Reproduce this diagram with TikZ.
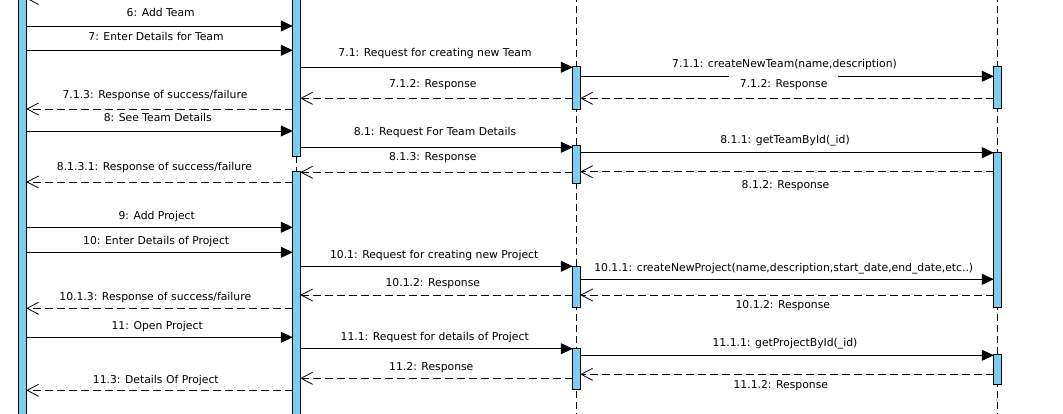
\documentclass[tikz,border=0pt]{standalone}
\usepackage{fontspec}
\setmainfont{DejaVu Sans}
\usetikzlibrary{arrows.meta}
\definecolor{barblue}{RGB}{122,206,242}
\tikzset{
  actbarst/.style={draw=black, line width=0.9pt, fill=barblue, minimum width=7.5pt, inner sep=0pt, outer sep=0pt},
  lifeline/.style={draw=black, line width=0.8pt, dash pattern=on 7pt off 4pt},
  call/.style={draw=black, line width=0.9pt, -{Triangle[length=12pt,width=11pt]}},
  ret/.style={draw=black, line width=0.9pt, dash pattern=on 8pt off 4pt, -{Straight Barb[length=11.5pt,width=12pt,line width=0.8pt]}},
  lbl/.style={font=\fontsize{10.8pt}{12pt}\selectfont, anchor=base, inner sep=0pt, text=black},
  lblw/.style={lbl, fill=white, inner xsep=11pt, inner ysep=4.5pt}
}
\newcommand\actbar[4]{%
  \pgfmathsetmacro\barh{#4-#3}%
  \pgfmathsetmacro\barc{(#3+#4)/2}%
  \node[actbarst, minimum height=\barh pt] (#1) at (#2,\barc) {};}
\begin{document}
\begin{tikzpicture}[x=1pt,y=-1pt]
\useasboundingbox[fill=white] (0,0) rectangle (1063,414);
% lifelines
\coordinate (L3top) at (576.5,-5);
\coordinate (L3bot) at (576.5,420);
\coordinate (L4top) at (997.5,-5);
\coordinate (L4bot) at (997.5,420);
\draw[lifeline] (L3top) -- (L3bot);
\draw[lifeline] (L4top) -- (L4bot);
% activation bars
\actbar{A1}{22.5}{-5}{420}
\actbar{B1}{296.5}{-5}{156.5}
\actbar{B2}{296.5}{171.5}{420}
\draw[lifeline] (B1.south) -- (B2.north);
\actbar{C1}{576.5}{66.5}{109}
\actbar{C2}{576.5}{145.5}{183.5}
\actbar{C3}{576.5}{266.5}{307}
\actbar{C4}{576.5}{348.5}{389}
\actbar{D1}{997.5}{66.5}{108.5}
\actbar{D2}{997.5}{152.5}{307}
\actbar{D3}{997.5}{354.5}{384.5}
% partially visible return at the top
\draw[ret] (B1.west |- 0,-1.5) -- (A1.east |- 0,-1.5);
% messages
\draw[call] (A1.east |- 0,26) -- (B1.west |- 0,26);
\node[lbl] (m6) at (160.7,16.7) {6: Add Team};
\draw[call] (A1.east |- 0,50.3) -- (B1.west |- 0,50.3);
\node[lbl] (m7) at (156,40.2) {7: Enter Details for Team};
\draw[call] (B1.east |- 0,67.3) -- (C1.west |- 0,67.3);
\node[lbl] (m71) at (435,56.8) {7.1: Request for creating new Team};
\draw[call] (C1.east |- 0,76.3) -- (D1.west |- 0,76.3);
\node[lbl] (m711) at (784.5,67.5) {7.1.1: createNewTeam(name,description)};
\draw[ret] (D1.west |- 0,98.3) -- (C1.east |- 0,98.3);
\node[lblw] (m712a) at (783.7,87.5) {7.1.2: Response};
\draw[ret] (C1.west |- 0,98.3) -- (B1.east |- 0,98.3);
\node[lbl] (m712b) at (432.8,87.8) {7.1.2: Response};
\draw[ret] (B1.west |- 0,109) -- (A1.east |- 0,109);
\node[lbl] (m713) at (155,98.5) {7.1.3: Response of success/failure};
\draw[call] (A1.east |- 0,131) -- (B1.west |- 0,131);
\node[lbl] (m8) at (157.8,121.5) {8: See Team Details};
\draw[call] (B1.east |- 0,147.3) -- (C2.west |- 0,147.3);
\node[lbl] (m81) at (435,136) {8.1: Request For Team Details};
\draw[call] (C2.east |- 0,152.7) -- (D2.west |- 0,152.7);
\node[lbl] (m811) at (785,143.3) {8.1.1: getTeamById(\_id)};
\draw[ret] (D2.west |- 0,171.7) -- (C2.east |- 0,171.7);
\node[lbl] (m812) at (785.5,188.3) {8.1.2: Response};
\draw[ret] (C2.west |- 0,172.3) -- (B2.east |- 0,172.3);
\node[lbl] (m813) at (432.8,161) {8.1.3: Response};
\draw[ret] (B2.west |- 0,182) -- (A1.east |- 0,182);
\node[lbl] (m8131) at (154.5,170.7) {8.1.3.1: Response of success/failure};
\draw[call] (A1.east |- 0,227.3) -- (B2.west |- 0,227.3);
\node[lbl] (m9) at (156.7,220) {9: Add Project};
\draw[call] (A1.east |- 0,252.3) -- (B2.west |- 0,252.3);
\node[lbl] (m10) at (156.2,244) {10: Enter Details of Project};
\draw[call] (B2.east |- 0,266.3) -- (C3.west |- 0,266.3);
\node[lbl] (m101) at (434.2,258.5) {10.1: Request for creating new Project};
\draw[call] (C3.east |- 0,279.3) -- (D2.west |- 0,279.3);
\node[lbl] (m1011) at (783.7,271) {10.1.1: createNewProject(name,description,start\_date,end\_date,etc..)};
\draw[ret] (D2.west |- 0,295) -- (C3.east |- 0,295);
\node[lbl] (m1012a) at (782.8,308) {10.1.2: Response};
\draw[ret] (C3.west |- 0,295) -- (B2.east |- 0,295);
\node[lbl] (m1012b) at (432.8,286.5) {10.1.2: Response};
\draw[ret] (B2.west |- 0,308.3) -- (A1.east |- 0,308.3);
\node[lbl] (m1013) at (155.3,300.5) {10.1.3: Response of success/failure};
\draw[call] (A1.east |- 0,337.3) -- (B2.west |- 0,337.3);
\node[lbl] (m11) at (157.2,329) {11: Open Project};
\draw[call] (B2.east |- 0,348.7) -- (C4.west |- 0,348.7);
\node[lbl] (m111) at (434.7,340.5) {11.1: Request for details of Project};
\draw[call] (C4.east |- 0,355.3) -- (D3.west |- 0,355.3);
\node[lbl] (m1111) at (785,346.5) {11.1.1: getProjectById(\_id)};
\draw[ret] (D3.west |- 0,374.3) -- (C4.east |- 0,374.3);
\node[lbl] (m1112) at (780.8,388.5) {11.1.2: Response};
\draw[ret] (C4.west |- 0,378.3) -- (B2.east |- 0,378.3);
\node[lbl] (m112) at (431.3,370.5) {11.2: Response};
\draw[ret] (B2.west |- 0,390.3) -- (A1.east |- 0,390.3);
\node[lbl] (m113) at (155.8,383) {11.3: Details Of Project};
\end{tikzpicture}
\end{document}
